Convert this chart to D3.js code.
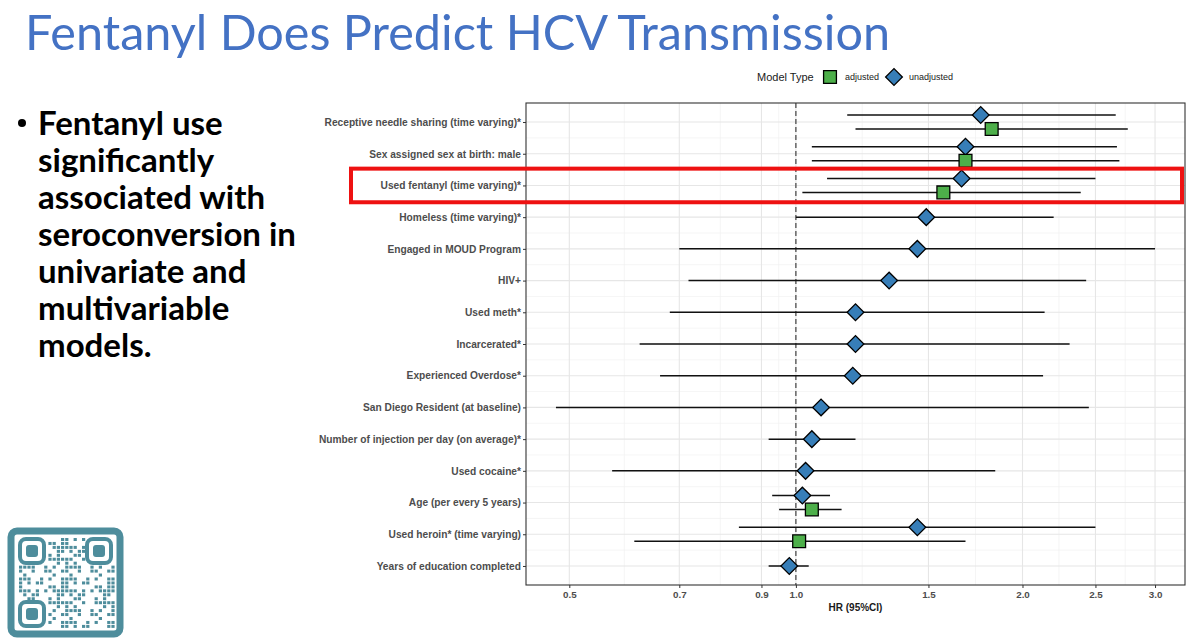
<!DOCTYPE html>
<html>
<head>
<meta charset="utf-8">
<script src="https://cdn.jsdelivr.net/npm/d3@7"></script>
<style>
  body { margin: 0; background: #fff; }
  svg { display: block; }
</style>
</head>
<body>
<svg id="slide" width="1200" height="639"></svg>
<script>
// Rows of the forest plot, top to bottom
const categories = [
    "Receptive needle sharing (time varying)*",
    "Sex assigned sex at birth: male",
    "Used fentanyl (time varying)*",
    "Homeless (time varying)*",
    "Engaged in MOUD Program",
    "HIV+",
    "Used meth*",
    "Incarcerated*",
    "Experienced Overdose*",
    "San Diego Resident (at baseline)",
    "Number of injection per day (on average)*",
    "Used cocaine*",
    "Age (per every 5 years)",
    "Used heroin* (time varying)",
    "Years of education completed"
];

// Unadjusted hazard ratios and 95% CI (one per row)
const unadjHR   = [1.76, 1.68, 1.66, 1.49, 1.45, 1.33, 1.20, 1.20, 1.19, 1.08, 1.05, 1.03, 1.02, 1.45, 0.98];
const unadjLow  = [1.17, 1.05, 1.10, 1.00, 0.70, 0.72, 0.68, 0.62, 0.66, 0.48, 0.92, 0.57, 0.93, 0.84, 0.92];
const unadjHigh = [2.66, 2.67, 2.50, 2.20, 3.00, 2.43, 2.14, 2.31, 2.13, 2.45, 1.20, 1.84, 1.11, 2.50, 1.04];

// Adjusted model (only the variables kept in the multivariable model)
const adjCategories = [
    "Receptive needle sharing (time varying)*",
    "Sex assigned sex at birth: male",
    "Used fentanyl (time varying)*",
    "Age (per every 5 years)",
    "Used heroin* (time varying)"
];
const adjHR   = [1.82, 1.68, 1.57, 1.05, 1.01];
const adjLow  = [1.20, 1.05, 1.02, 0.95, 0.61];
const adjHigh = [2.76, 2.69, 2.39, 1.15, 1.68];

const xTicks = [0.5, 0.7, 0.9, 1.0, 1.5, 2.0, 2.5, 3.0];

const highlighted = "Used fentanyl (time varying)*";

const bulletLines = [
    "Fentanyl use",
    "significantly",
    "associated with",
    "seroconversion in",
    "univariate and",
    "multivariable",
    "models."
];

const colors = { adjusted: "#4DAF4A", unadjusted: "#377EB8" };

const svg = d3.select("#slide");

// ---- Slide title and bullet text ----
svg.append("text")
    .attr("x", 25)
    .attr("y", 50)
    .attr("font-family", "Lato, Noto Sans, sans-serif")
    .attr("font-size", 48)
    .attr("fill", "#4472C4")
    .attr("textLength", 865)
    .attr("lengthAdjust", "spacingAndGlyphs")
    .text("Fentanyl Does Predict HCV Transmission");

svg.append("circle")
    .attr("cx", 22)
    .attr("cy", 123)
    .attr("r", 4)
    .attr("fill", "#000");

svg.append("g")
    .selectAll("text")
    .data(bulletLines)
    .enter().append("text")
    .attr("x", 38)
    .attr("y", (d, i) => 135 + i * 37)
    .attr("font-family", "Lato, Open Sans, sans-serif")
    .attr("font-weight", "bold")
    .attr("font-size", 33)
    .attr("fill", "#000")
    .text(d => d);

// ---- QR code (decorative) ----
const qr = svg.append("g").attr("transform", "translate(8,528)");
const qrColor = "#4E8D9C";
qr.append("rect")
    .attr("x", 3).attr("y", 3)
    .attr("width", 109).attr("height", 103)
    .attr("rx", 6)
    .attr("fill", "#fff")
    .attr("stroke", qrColor)
    .attr("stroke-width", 7);
const modules = [];
for (let r = 0; r < 23; r++) {
    for (let c = 0; c < 23; c++) {
        const inFinder = (r < 7 && c < 7) || (r < 7 && c > 15) || (r > 15 && c < 7);
        if (!inFinder && ((r * r * 3 + c * c * 5 + r * c * 7 + r + 2 * c) % 11) < 5) {
            modules.push([r, c]);
        }
    }
}
qr.selectAll(".mod")
    .data(modules)
    .enter().append("rect")
    .attr("class", "mod")
    .attr("x", d => 11 + d[1] * 4.2)
    .attr("y", d => 10 + d[0] * 3.95)
    .attr("width", 3.2)
    .attr("height", 3.0)
    .attr("fill", qrColor);
[[11, 10], [78, 10], [11, 73]].forEach(p => {
    qr.append("rect")
        .attr("x", p[0] + 1).attr("y", p[1] + 1)
        .attr("width", 24).attr("height", 24).attr("rx", 6)
        .attr("fill", "none").attr("stroke", qrColor).attr("stroke-width", 4);
    qr.append("rect")
        .attr("x", p[0] + 7).attr("y", p[1] + 7)
        .attr("width", 12).attr("height", 12).attr("rx", 3)
        .attr("fill", qrColor);
});

// ---- Forest plot ----
const panel = { left: 526, right: 1185, top: 103, bottom: 585 };

// log x scale with ggplot-like 5% expansion in log space
const allLow = d3.min(unadjLow.concat(adjLow));
const allHigh = d3.max(unadjHigh.concat(adjHigh));
const lMin = Math.log(allLow), lMax = Math.log(allHigh);
const pad = (lMax - lMin) * 0.05;
const xScale = d3.scaleLog()
    .domain([Math.exp(lMin - pad), Math.exp(lMax + pad)])
    .range([panel.left, panel.right]);

const yScale = d3.scalePoint()
    .domain(categories)
    .range([panel.top, panel.bottom])
    .padding(0.6);
const step = yScale.step();
const dodge = step * 0.22;

// minor breaks halfway (in log space) between major breaks
const xMinor = d3.pairs(xTicks).map(p => Math.sqrt(p[0] * p[1]));
const yMinor = d3.pairs(categories).map(p => (yScale(p[0]) + yScale(p[1])) / 2);

const plot = svg.append("g");

plot.append("rect")
    .attr("x", panel.left).attr("y", panel.top)
    .attr("width", panel.right - panel.left)
    .attr("height", panel.bottom - panel.top)
    .attr("fill", "#fff");

// grid
plot.append("g").selectAll("line")
    .data(xMinor)
    .enter().append("line")
    .attr("x1", d => xScale(d)).attr("x2", d => xScale(d))
    .attr("y1", panel.top).attr("y2", panel.bottom)
    .attr("stroke", "#f0f0f0").attr("stroke-width", 0.7);
plot.append("g").selectAll("line")
    .data(yMinor)
    .enter().append("line")
    .attr("x1", panel.left).attr("x2", panel.right)
    .attr("y1", d => d).attr("y2", d => d)
    .attr("stroke", "#f0f0f0").attr("stroke-width", 0.7);
plot.append("g").selectAll("line")
    .data(xTicks)
    .enter().append("line")
    .attr("x1", d => xScale(d)).attr("x2", d => xScale(d))
    .attr("y1", panel.top).attr("y2", panel.bottom)
    .attr("stroke", "#e6e6e6").attr("stroke-width", 1.1);
plot.append("g").selectAll("line")
    .data(categories)
    .enter().append("line")
    .attr("x1", panel.left).attr("x2", panel.right)
    .attr("y1", d => yScale(d)).attr("y2", d => yScale(d))
    .attr("stroke", "#e6e6e6").attr("stroke-width", 1.1);

// reference line at HR = 1
plot.append("line")
    .attr("x1", xScale(1)).attr("x2", xScale(1))
    .attr("y1", panel.top).attr("y2", panel.bottom)
    .attr("stroke", "#333")
    .attr("stroke-width", 1.1)
    .attr("stroke-dasharray", "5,3");

// build point records, dodged when both models exist for a row
const rows = [];
categories.forEach((c, i) => {
    const hasAdj = adjCategories.includes(c);
    rows.push({ cat: c, type: "unadjusted", hr: unadjHR[i], lo: unadjLow[i], hi: unadjHigh[i],
        y: yScale(c) - (hasAdj ? dodge : 0) });
});
adjCategories.forEach((c, i) => {
    rows.push({ cat: c, type: "adjusted", hr: adjHR[i], lo: adjLow[i], hi: adjHigh[i],
        y: yScale(c) + dodge });
});

// CI bars
plot.append("g").selectAll("line")
    .data(rows)
    .enter().append("line")
    .attr("x1", d => xScale(d.lo)).attr("x2", d => xScale(d.hi))
    .attr("y1", d => d.y).attr("y2", d => d.y)
    .attr("stroke", "#111")
    .attr("stroke-width", 1.5);

const squareSym = d3.symbol().type(d3.symbolSquare).size(165);
const diamondSym = d3.symbol().type(d3.symbolSquare).size(140);

plot.append("g").selectAll("path")
    .data(rows)
    .enter().append("path")
    .attr("transform", d => `translate(${xScale(d.hr)},${d.y})` + (d.type === "unadjusted" ? " rotate(45)" : ""))
    .attr("d", d => d.type === "unadjusted" ? diamondSym() : squareSym())
    .attr("fill", d => colors[d.type])
    .attr("stroke", "#000")
    .attr("stroke-width", 1.3);

// panel border
plot.append("rect")
    .attr("x", panel.left).attr("y", panel.top)
    .attr("width", panel.right - panel.left)
    .attr("height", panel.bottom - panel.top)
    .attr("fill", "none")
    .attr("stroke", "#333")
    .attr("stroke-width", 1.1);

// axes
const xAxis = plot.append("g")
    .attr("transform", `translate(0,${panel.bottom})`)
    .call(d3.axisBottom(xScale).tickValues(xTicks).tickFormat(d3.format(".1f")).tickSize(3).tickPadding(3));
const yAxis = plot.append("g")
    .attr("transform", `translate(${panel.left},0)`)
    .call(d3.axisLeft(yScale).tickSize(3).tickPadding(2));
[xAxis, yAxis].forEach(ax => {
    ax.select(".domain").remove();
    ax.selectAll(".tick line").attr("stroke", "#333");
    ax.selectAll(".tick text")
        .attr("font-family", "Liberation Sans, Arial, sans-serif")
        .attr("font-weight", "bold")
        .attr("font-size", 10.2)
        .attr("fill", "#4d4d4d");
});
xAxis.selectAll(".tick text").attr("font-size", 9.8);

plot.append("text")
    .attr("x", (panel.left + panel.right) / 2)
    .attr("y", 611)
    .attr("text-anchor", "middle")
    .attr("font-family", "Liberation Sans, Arial, sans-serif")
    .attr("font-weight", "bold")
    .attr("font-size", 10)
    .attr("fill", "#1a1a1a")
    .text("HR (95%CI)");

// legend
const legend = svg.append("g").attr("font-family", "Liberation Sans, Arial, sans-serif");
legend.append("text")
    .attr("x", 757).attr("y", 81)
    .attr("font-size", 11)
    .attr("fill", "#1a1a1a")
    .text("Model Type");
legend.append("path")
    .attr("transform", "translate(830,77)")
    .attr("d", squareSym())
    .attr("fill", colors.adjusted)
    .attr("stroke", "#000").attr("stroke-width", 1.3);
legend.append("text")
    .attr("x", 845).attr("y", 80)
    .attr("font-size", 9)
    .attr("fill", "#1a1a1a")
    .text("adjusted");
legend.append("path")
    .attr("transform", "translate(894,77) rotate(45)")
    .attr("d", diamondSym())
    .attr("fill", colors.unadjusted)
    .attr("stroke", "#000").attr("stroke-width", 1.3);
legend.append("text")
    .attr("x", 909).attr("y", 80)
    .attr("font-size", 9)
    .attr("fill", "#1a1a1a")
    .text("unadjusted");

// red highlight box around the fentanyl row
svg.append("rect")
    .attr("x", 351)
    .attr("y", yScale(highlighted) - step * 0.53)
    .attr("width", 1182 - 351)
    .attr("height", step * 1.06)
    .attr("fill", "none")
    .attr("stroke", "#ee1111")
    .attr("stroke-width", 4);
</script>
</body>
</html>
